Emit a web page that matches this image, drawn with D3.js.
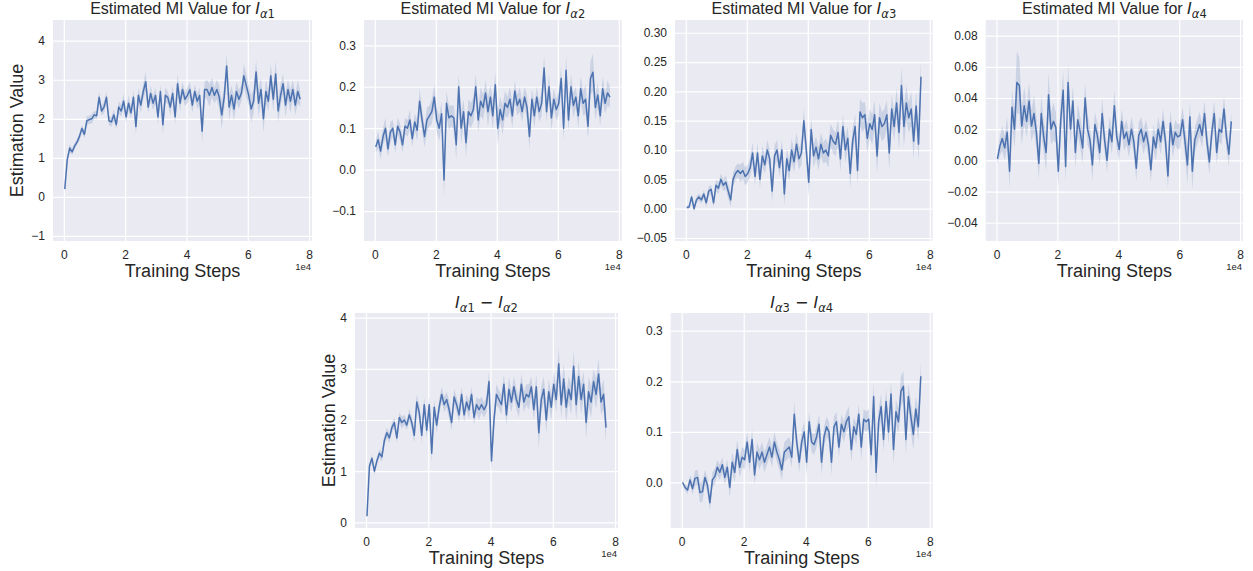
<!DOCTYPE html>
<html><head><meta charset="utf-8">
<script src="https://cdn.jsdelivr.net/npm/d3@7"></script>
<style>
body{margin:0;background:#fff;}
svg text{font-family:"Liberation Sans",Arial,sans-serif;fill:#262626;}
</style></head>
<body><svg id="chart" width="1253" height="571"></svg>
<script>
// ---- data ----
const steps = [300,1100,1900,2700,3500,4300,5100,5900,6700,7500,
8300,9100,9900,10700,11500,12300,13100,13900,14700,15500,
16300,17100,17900,18700,19500,20300,21100,21900,22700,23500,
24300,25100,25900,26700,27500,28300,29100,29900,30700,31500,
32300,33100,33900,34700,35500,36300,37100,37900,38700,39500,
40300,41100,41900,42700,43500,44300,45100,45900,46700,47500,
48300,49100,49900,50700,51500,52300,53100,53900,54700,55500,
56300,57100,57900,58700,59500,60300,61100,61900,62700,63500,
64300,65100,65900,66700,67500,68300,69100,69900,70700,71500,
72300,73100,73900,74700,75500,76300,77100];

const mi1 = [0.2,0.95,1.25,1.15,1.3,1.4,1.55,1.75,1.6,1.95,
1.98,2.0,2.1,2.08,2.55,2.2,2.3,2.55,1.95,1.92,
2.1,1.85,2.3,2.2,2.45,2.05,2.4,2.15,2.55,1.8,
2.6,2.35,2.7,2.95,2.3,2.65,2.4,2.6,2.05,2.7,
1.85,2.6,2.55,2.3,2.65,2.05,2.9,2.4,2.75,2.5,
2.6,2.75,2.35,2.7,2.45,2.6,1.68,2.75,2.75,2.6,
2.8,2.6,2.75,2.55,2.1,2.55,3.35,2.3,2.6,2.25,
2.7,2.5,2.65,3.1,2.85,2.6,2.25,2.45,3.2,2.4,
2.75,2.0,2.7,2.45,3.1,2.5,3.15,2.2,2.6,2.9,
2.35,2.75,2.45,2.75,2.35,2.7,2.5];
const band1 = [0.02,0.08,0.1,0.08,0.08,0.08,0.1,0.1,0.1,0.12,
0.1,0.12,0.1,0.1,0.15,0.12,0.15,0.15,0.12,0.12,
0.15,0.12,0.15,0.15,0.18,0.15,0.2,0.15,0.18,0.2,
0.2,0.18,0.2,0.25,0.15,0.2,0.18,0.2,0.2,0.18,
0.25,0.2,0.15,0.2,0.2,0.2,0.25,0.2,0.2,0.18,
0.2,0.2,0.2,0.18,0.2,0.2,0.3,0.2,0.25,0.3,
0.25,0.2,0.25,0.3,0.35,0.3,0.3,0.35,0.25,0.3,
0.25,0.25,0.2,0.3,0.3,0.25,0.35,0.3,0.3,0.35,
0.3,0.35,0.3,0.25,0.3,0.3,0.35,0.3,0.3,0.25,
0.3,0.25,0.3,0.25,0.25,0.3,0.2];

const mi2 = [0.055,0.072,0.045,0.08,0.1,0.05,0.09,0.1,0.06,0.105,
0.09,0.06,0.105,0.1,0.12,0.075,0.115,0.095,0.165,0.12,
0.08,0.12,0.13,0.14,0.175,0.12,0.1,0.135,-0.025,0.16,
0.125,0.13,0.125,0.06,0.2,0.1,0.14,0.065,0.14,0.13,
0.145,0.2,0.12,0.165,0.15,0.185,0.14,0.175,0.13,0.205,
0.1,0.145,0.12,0.16,0.15,0.17,0.13,0.19,0.155,0.17,
0.14,0.175,0.15,0.08,0.17,0.13,0.175,0.14,0.16,0.245,
0.14,0.2,0.125,0.17,0.145,0.16,0.22,0.1,0.24,0.12,
0.2,0.155,0.175,0.13,0.195,0.16,0.17,0.105,0.22,0.235,
0.15,0.18,0.13,0.195,0.16,0.185,0.175];
const band2 = [0.015,0.02,0.02,0.02,0.025,0.02,0.025,0.02,0.02,0.02,
0.02,0.02,0.02,0.02,0.025,0.02,0.02,0.025,0.03,0.025,
0.025,0.03,0.025,0.03,0.03,0.03,0.03,0.03,0.04,0.03,
0.03,0.025,0.03,0.035,0.03,0.04,0.03,0.035,0.03,0.03,
0.03,0.03,0.03,0.035,0.03,0.03,0.035,0.03,0.035,0.03,
0.04,0.03,0.035,0.03,0.025,0.03,0.03,0.025,0.025,0.03,
0.025,0.025,0.03,0.03,0.025,0.03,0.025,0.025,0.03,0.03,
0.025,0.03,0.03,0.025,0.025,0.03,0.03,0.03,0.035,0.03,
0.03,0.03,0.025,0.03,0.03,0.03,0.035,0.03,0.04,0.045,
0.03,0.03,0.025,0.03,0.025,0.03,0.025];

const mi3 = [0.002,0.003,0.02,0.0,0.015,0.02,0.015,0.025,0.01,0.03,
0.033,0.01,0.04,0.035,0.05,0.04,0.045,0.03,0.015,0.05,
0.06,0.065,0.06,0.065,0.055,0.06,0.07,0.095,0.055,0.095,
0.05,0.09,0.075,0.1,0.085,0.03,0.09,0.1,0.07,0.1,
0.025,0.085,0.065,0.1,0.08,0.11,0.085,0.095,0.15,0.1,
0.045,0.135,0.09,0.105,0.085,0.11,0.095,0.1,0.09,0.125,
0.115,0.11,0.13,0.085,0.14,0.1,0.12,0.06,0.115,0.14,
0.065,0.165,0.155,0.16,0.12,0.145,0.135,0.16,0.09,0.155,
0.14,0.145,0.16,0.095,0.17,0.14,0.18,0.13,0.21,0.14,
0.18,0.155,0.17,0.115,0.175,0.11,0.225];
const band3 = [0.002,0.004,0.005,0.005,0.006,0.006,0.006,0.007,0.007,0.008,
0.008,0.008,0.01,0.01,0.01,0.01,0.012,0.012,0.012,0.012,
0.012,0.012,0.015,0.015,0.015,0.015,0.015,0.018,0.015,0.018,
0.015,0.018,0.015,0.018,0.015,0.02,0.018,0.018,0.015,0.018,
0.02,0.018,0.018,0.02,0.018,0.02,0.018,0.02,0.02,0.02,
0.025,0.02,0.02,0.018,0.02,0.02,0.018,0.02,0.02,0.02,
0.02,0.02,0.022,0.022,0.02,0.022,0.02,0.025,0.022,0.022,
0.025,0.022,0.025,0.022,0.025,0.025,0.025,0.025,0.03,0.025,
0.025,0.025,0.025,0.03,0.025,0.025,0.025,0.03,0.03,0.035,
0.03,0.025,0.03,0.03,0.025,0.03,0.03];

const mi4 = [0.001,0.009,0.014,0.008,0.018,-0.007,0.034,0.02,0.05,0.048,
0.022,0.035,0.025,0.038,0.022,0.03,0.018,-0.002,0.03,0.015,
0.005,0.042,0.02,0.025,0.021,-0.007,0.026,0.045,-0.004,0.05,
0.02,0.038,0.005,0.026,0.018,0.008,0.04,0.02,0.013,-0.003,
0.023,0.016,0.005,0.03,0.013,0.0,0.02,0.012,0.035,0.015,
0.007,0.025,0.014,0.018,0.01,0.02,0.012,-0.005,0.016,0.02,
0.012,0.018,0.01,-0.006,0.015,0.008,0.02,0.012,0.025,0.012,
-0.01,0.024,0.01,0.018,0.015,0.016,0.026,0.012,-0.003,0.028,
-0.007,0.013,0.018,0.023,0.016,0.03,0.012,-0.001,0.018,0.03,
0.005,0.02,0.018,0.033,0.015,0.004,0.025];
const band4 = [0.003,0.006,0.008,0.008,0.01,0.01,0.012,0.012,0.02,0.018,
0.012,0.012,0.01,0.012,0.01,0.012,0.01,0.01,0.012,0.01,
0.012,0.014,0.01,0.012,0.01,0.01,0.012,0.012,0.01,0.012,
0.01,0.01,0.01,0.01,0.01,0.01,0.01,0.01,0.008,0.01,
0.008,0.008,0.008,0.01,0.008,0.008,0.008,0.008,0.01,0.008,
0.008,0.008,0.008,0.008,0.008,0.008,0.008,0.008,0.008,0.008,
0.008,0.008,0.008,0.008,0.008,0.008,0.008,0.008,0.008,0.008,
0.008,0.008,0.008,0.008,0.008,0.008,0.008,0.01,0.012,0.01,
0.012,0.008,0.008,0.008,0.008,0.008,0.008,0.008,0.008,0.008,
0.008,0.008,0.008,0.008,0.008,0.008,0.006];

const diff12 = [0.12,1.1,1.25,1.0,1.2,1.35,1.28,1.6,1.75,1.65,
1.85,1.95,1.65,2.05,1.95,2.0,1.9,2.1,1.95,1.7,
2.35,2.15,1.7,2.3,1.8,2.3,1.35,2.25,1.9,2.25,
2.5,2.3,2.4,2.2,1.95,2.45,2.3,2.1,2.5,2.1,
2.35,2.2,2.5,2.05,2.3,2.2,2.3,2.2,2.3,2.75,
1.2,2.0,2.5,2.4,2.3,2.7,2.1,2.6,2.35,2.65,
2.4,2.25,2.7,2.35,2.5,2.45,2.65,2.2,2.65,1.75,
2.4,2.6,2.0,2.55,2.25,2.7,2.4,3.1,2.3,2.8,
2.25,2.6,2.4,3.05,2.3,2.85,2.4,2.7,1.95,2.55,
2.35,2.75,2.5,2.9,2.35,2.5,1.85];
const band5 = [0.02,0.06,0.08,0.08,0.08,0.08,0.1,0.1,0.1,0.1,
0.1,0.1,0.1,0.1,0.12,0.1,0.1,0.12,0.12,0.15,
0.15,0.15,0.15,0.15,0.15,0.15,0.18,0.15,0.15,0.15,
0.15,0.15,0.15,0.18,0.15,0.15,0.15,0.15,0.15,0.15,
0.15,0.18,0.15,0.15,0.15,0.2,0.15,0.15,0.15,0.2,
0.2,0.2,0.2,0.18,0.2,0.2,0.2,0.25,0.2,0.2,
0.2,0.2,0.2,0.2,0.2,0.25,0.2,0.2,0.25,0.3,
0.25,0.25,0.25,0.25,0.25,0.25,0.25,0.3,0.25,0.3,
0.3,0.25,0.3,0.3,0.3,0.3,0.3,0.25,0.3,0.3,
0.3,0.25,0.3,0.3,0.25,0.3,0.3];

const diff34 = [0.0,-0.01,-0.015,0.005,-0.012,0.008,0.01,-0.02,-0.018,0.01,
-0.005,-0.04,0.005,0.012,0.03,0.02,0.035,0.01,0.03,-0.01,
0.04,0.02,0.065,0.03,0.05,0.045,0.08,0.04,0.085,0.015,
0.06,0.045,0.06,0.04,0.055,0.07,0.05,0.08,0.06,0.045,
0.025,0.06,0.065,0.07,0.05,0.135,0.08,0.04,0.08,0.1,
0.04,0.12,0.08,0.075,0.09,0.115,0.04,0.09,0.11,0.1,
0.04,0.11,0.12,0.07,0.115,0.1,0.12,0.13,0.065,0.11,
0.095,0.135,0.07,0.125,0.12,0.125,0.055,0.17,0.02,0.12,
0.15,0.085,0.16,0.1,0.175,0.065,0.14,0.12,0.18,0.19,
0.085,0.17,0.13,0.095,0.145,0.11,0.21];
const band6 = [0.003,0.006,0.008,0.01,0.012,0.015,0.015,0.02,0.02,0.015,
0.015,0.015,0.015,0.015,0.015,0.015,0.015,0.015,0.015,0.02,
0.02,0.02,0.02,0.02,0.02,0.02,0.02,0.02,0.02,0.02,
0.02,0.02,0.02,0.02,0.02,0.02,0.02,0.02,0.02,0.02,
0.02,0.02,0.02,0.02,0.02,0.025,0.02,0.02,0.02,0.02,
0.025,0.02,0.02,0.02,0.02,0.02,0.025,0.02,0.02,0.02,
0.025,0.02,0.02,0.02,0.02,0.02,0.02,0.02,0.025,0.02,
0.02,0.02,0.025,0.02,0.02,0.02,0.025,0.025,0.03,0.025,
0.025,0.025,0.025,0.025,0.025,0.03,0.025,0.025,0.03,0.03,
0.03,0.025,0.03,0.03,0.025,0.03,0.03];

const xTickValues = [0, 20000, 40000, 60000, 80000];
const yTicks1 = [-1, 0, 1, 2, 3, 4];
const yTicks2 = [-0.1, 0.0, 0.1, 0.2, 0.3];
const yTicks3 = [-0.05, 0.00, 0.05, 0.10, 0.15, 0.20, 0.25, 0.30];
const yTicks4 = [-0.04, -0.02, 0.00, 0.02, 0.04, 0.06, 0.08];
const yTicks5 = [0, 1, 2, 3, 4];
const yTicks6 = [0.0, 0.1, 0.2, 0.3];

// ---- layout ----
const panels = [
  {v: mi1, b: band1, yd: [-1.13, 4.53], yt: yTicks1, fmt: "d", L: 53, R: 312, T: 20, B: 241, title: [{t: "Estimated MI Value for "}, {m: "1"}], ylab: true, titleY: 14},
  {v: mi2, b: band2, yd: [-0.172, 0.361], yt: yTicks2, fmt: ".1f", L: 364, R: 621.7, T: 20, B: 241, title: [{t: "Estimated MI Value for "}, {m: "2"}], titleY: 14},
  {v: mi3, b: band3, yd: [-0.0551, 0.3217], yt: yTicks3, fmt: ".2f", L: 675, R: 932.7, T: 20, B: 241, title: [{t: "Estimated MI Value for "}, {m: "3"}], titleY: 14},
  {v: mi4, b: band4, yd: [-0.0517, 0.090], yt: yTicks4, fmt: ".2f", L: 985.7, R: 1243, T: 20, B: 241, title: [{t: "Estimated MI Value for "}, {m: "4"}], titleY: 14},
  {v: diff12, b: band5, yd: [-0.11, 4.09], yt: yTicks5, fmt: "d", L: 355, R: 618, T: 313, B: 528, title: [{m: "1"}, {t: " − ", math: true}, {m: "2"}], ylab: true, ylabDx: 20, titleY: 308},
  {v: diff34, b: band6, yd: [-0.09, 0.335], yt: yTicks6, fmt: ".1f", L: 670.7, R: 932.7, T: 313, B: 528, title: [{m: "3"}, {t: " − ", math: true}, {m: "4"}], titleY: 308}
];

const svg = d3.select("#chart");
const color = "#4C72B0";
const xDomain = [-3540, 80940];
const mathFont = "'DejaVu Sans', sans-serif";

panels.forEach((p, pi) => {
  const x = d3.scaleLinear().domain(xDomain).range([p.L, p.R]);
  const y = d3.scaleLinear().domain(p.yd).range([p.B, p.T]);
  const g = svg.append("g");
  g.append("rect").attr("x", p.L).attr("y", p.T).attr("width", p.R - p.L).attr("height", p.B - p.T).attr("fill", "#EAEAF2");

  const yAxis = d3.axisLeft(y).tickValues(p.yt).tickSize(-(p.R - p.L)).tickPadding(8).tickFormat(d3.format(p.fmt));
  const ya = g.append("g").attr("transform", `translate(${p.L},0)`).call(yAxis);
  const xAxis = d3.axisBottom(x).tickValues(xTickValues).tickSize(-(p.B - p.T)).tickPadding(9).tickFormat(d => d3.format("d")(d / 1e4));
  const xa = g.append("g").attr("transform", `translate(0,${p.B})`).call(xAxis);
  [ya, xa].forEach(a => {
    a.select(".domain").remove();
    a.selectAll(".tick line").attr("stroke", "#fff").attr("stroke-width", 1.2);
    a.selectAll(".tick text").attr("fill", "#262626").style("font-size", "12px").style("font-family", "'Liberation Sans', Arial, sans-serif");
  });

  const cid = "clip" + pi;
  svg.append("clipPath").attr("id", cid).append("rect").attr("x", p.L).attr("y", p.T).attr("width", p.R - p.L).attr("height", p.B - p.T);
  const data = steps.map((s, i) => ({s, v: p.v[i], b: p.b[i]}));
  const plot = g.append("g").attr("clip-path", `url(#${cid})`);
  plot.append("path").datum(data)
    .attr("d", d3.area().x(d => x(d.s)).y0(d => y(d.v - d.b)).y1(d => y(d.v + d.b)))
    .attr("fill", color).attr("fill-opacity", 0.2);
  plot.append("path").datum(data)
    .attr("d", d3.line().x(d => x(d.s)).y(d => y(d.v)))
    .attr("fill", "none").attr("stroke", color).attr("stroke-width", 1.5).attr("stroke-linejoin", "round");

  // title
  const t = g.append("text").attr("x", (p.L + p.R) / 2).attr("y", p.titleY).attr("text-anchor", "middle").style("font-size", "16px");
  let pendingDy = 0;
  p.title.forEach(part => {
    if (part.t !== undefined) {
      const ts = t.append("tspan").text(part.t);
      if (pendingDy) { ts.attr("dy", pendingDy); pendingDy = 0; }
      if (part.math) ts.style("font-family", mathFont);
    } else {
      const ti = t.append("tspan").text("I").style("font-family", mathFont).style("font-style", "italic");
      if (pendingDy) { ti.attr("dy", pendingDy); pendingDy = 0; }
      t.append("tspan").text("α").attr("dy", 4).style("font-family", mathFont).style("font-style", "italic").style("font-size", "11.5px");
      t.append("tspan").text(part.m).style("font-family", mathFont).style("font-size", "11.5px");
      pendingDy = -4;
    }
  });

  // x label
  g.append("text").attr("x", (p.L + p.R) / 2).attr("y", p.B + 36).attr("text-anchor", "middle").style("font-size", "18px").text("Training Steps");
  g.append("text").attr("x", p.R - 1).attr("y", p.B + 29).attr("text-anchor", "end").style("font-size", "9.5px").text("1e4");

  if (p.ylab) {
    const cx = p.L - (p.ylabDx !== undefined ? p.ylabDx : 30);
    const cy = (p.T + p.B) / 2;
    g.append("text").attr("transform", `translate(${cx},${cy}) rotate(-90)`).attr("text-anchor", "middle").style("font-size", "18px").text("Estimation Value");
  }
});
</script></body></html>
